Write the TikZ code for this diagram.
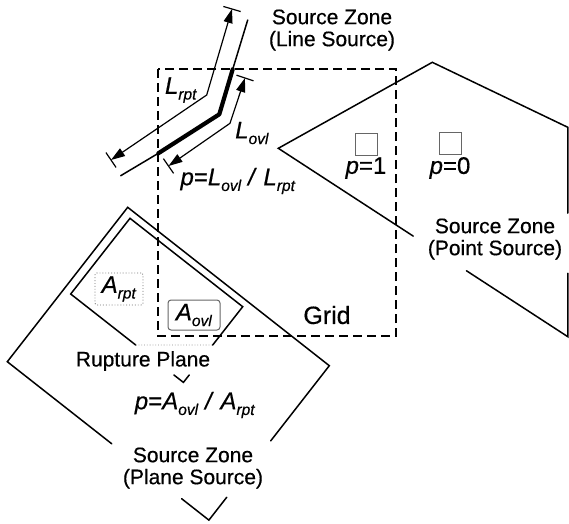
\documentclass[tikz,border=0pt]{standalone}
\usepackage{fontspec}
\setmainfont{Liberation Sans}[FakeBold=0.5]
\usetikzlibrary{arrows.meta,calc}
\newcommand\symsub[2]{\textit{#1}\raisebox{-0.45ex}{\fontsize{15.5}{15.5}\selectfont\textit{#2}}}
\begin{document}
\begin{tikzpicture}[x=1pt,y=-1pt,
  edge/.style={line width=1.5pt,line cap=round},
  thickedge/.style={line width=4.2pt,line cap=round,line join=round},
  gridline/.style={line width=2pt,dash pattern=on 9pt off 5pt},
  dimline/.style={line width=1.2pt,{Triangle[length=14pt,width=9pt]}-{Triangle[length=14pt,width=9pt]}},
  tick/.style={line width=1.2pt},
  lbl/.style={font=\fontsize{21}{22}\selectfont,inner sep=0pt,align=center},
  ilbl/.style={font=\fontsize{24}{26}\selectfont,inner sep=0pt},
  bigl/.style={font=\fontsize{25}{26}\selectfont,inner sep=0pt},
  cell/.style={draw=black!60,line width=1pt,minimum size=22pt,inner sep=0pt}]
\useasboundingbox (0,0) rectangle (569,523);
\fill[white] (0,0) rectangle (569,523);

% ---------- Grid ----------
\draw[gridline] (158,69) rectangle (396,336);

% ---------- Line source ----------
\coordinate (s1) at (247.7,20);
\coordinate (s2) at (232.7,69.3);
\coordinate (s3) at (219.3,114.3);
\coordinate (s4) at (158.3,153.3);
\coordinate (s5) at (120.7,175.7);
\draw[edge] (s1) -- (s2) -- (s3) -- (s4) -- (s5);
\draw[thickedge] (s2) -- (s3) -- (s4);

% L_rpt dimension
\coordinate (ra) at (232,9);
\coordinate (rv) at (206.7,95);
\coordinate (rb) at (111,160);
\draw[dimline] (ra) -- (rv) -- (rb);
\draw[tick] ($(ra)!9pt!90:(rv)$) -- ($(ra)!9pt!-90:(rv)$);
\draw[tick] ($(rb)!9pt!90:(rv)$) -- ($(rb)!9pt!-90:(rv)$);

% L_ovl dimension
\coordinate (oa) at (245,78);
\coordinate (ov) at (230,123.3);
\coordinate (ob) at (168.5,166);
\draw[dimline] (oa) -- (ov) -- (ob);
\draw[tick] ($(oa)!9pt!90:(ov)$) -- ($(oa)!9pt!-90:(ov)$);
\draw[tick] ($(ob)!9pt!90:(ov)$) -- ($(ob)!9pt!-90:(ov)$);

\node[lbl] (lsrc) at (332,30) {Source Zone\\(Line Source)};
\node[ilbl] (lrpt) at (181,90) {\symsub{L}{rpt}};
\node[ilbl] (lovl) at (252,133) {\symsub{L}{ovl}};
\node[ilbl] (pl) at (238,181) {\textit{p}=\symsub{L}{ovl} \textit{/} \symsub{L}{rpt}};

% ---------- Point source ----------
\coordinate (pL) at (278.3,148.3);
\coordinate (pT) at (432.3,62.3);
\coordinate (pR1) at (567.8,127.3);
\coordinate (pR2) at (567.8,336.7);
\draw[edge] ($(pL)!0.466!(pR2)$) -- (pL) -- (pT) -- (pR1) -- ($(pR1)!0.41!(pR2)$);
\draw[edge] ($(pR1)!0.697!(pR2)$) -- (pR2) -- ($(pL)!0.65!(pR2)$);

\node[cell] (c1) at (366,144.5) {};
\node[cell] (c0) at (450.5,143.5) {};
\node[ilbl] (p1) at (366,168) {\textit{p}=1};
\node[ilbl] (p0) at (450,168) {\textit{p}=0};
\node[lbl] (psrc) at (495,239) {Source Zone\\(Point Source)};
\node[bigl] (grid) at (327,315) {Grid};

% ---------- Plane source ----------
\coordinate (oT) at (127.7,207.3);
\coordinate (oL) at (7.3,361.7);
\coordinate (oR) at (329.3,365.7);
\coordinate (oB) at (208.9,520.1);
\draw[edge] ($(oL)!0.518!(oB)$) -- (oL) -- (oT) -- (oR) -- ($(oR)!0.487!(oB)$);
\draw[edge] ($(oL)!0.865!(oB)$) -- (oB) -- ($(oR)!0.852!(oB)$);

\coordinate (iT) at (130,218.3);
\coordinate (iL) at (70.7,294);
\coordinate (iR) at (242.7,306.7);
\coordinate (iB) at (183.4,382.4);
\draw[edge] ($(iL)!0.577!(iB)$) -- (iL) -- (iT) -- (iR) -- ($(iR)!0.506!(iB)$);
\draw[edge] ($(iL)!0.916!(iB)$) -- (iB) -- ($(iR)!0.902!(iB)$);
\draw[black!45,line width=0.8pt,dotted] ($(iL)!0.577!(iB)$) -- ($(iR)!0.506!(iB)$);

\node[ilbl,draw=black!55,dotted,line width=0.9pt,rounded corners=2pt,minimum width=48pt,minimum height=32pt] (arpt) at (119,289) {\symsub{A}{rpt}};
\node[ilbl,draw=black!60,line width=1pt,rounded corners=3pt,minimum width=52pt,minimum height=30pt] (aovl) at (194,315) {\symsub{A}{ovl}};
\node[lbl] (rup) at (143,361) {Rupture Plane};
\node[ilbl] (pa) at (195,405) {\textit{p}=\symsub{A}{ovl} \textit{/} \symsub{A}{rpt}};
\node[lbl] (plsrc) at (193,468) {Source Zone\\(Plane Source)};
\end{tikzpicture}
\end{document}
